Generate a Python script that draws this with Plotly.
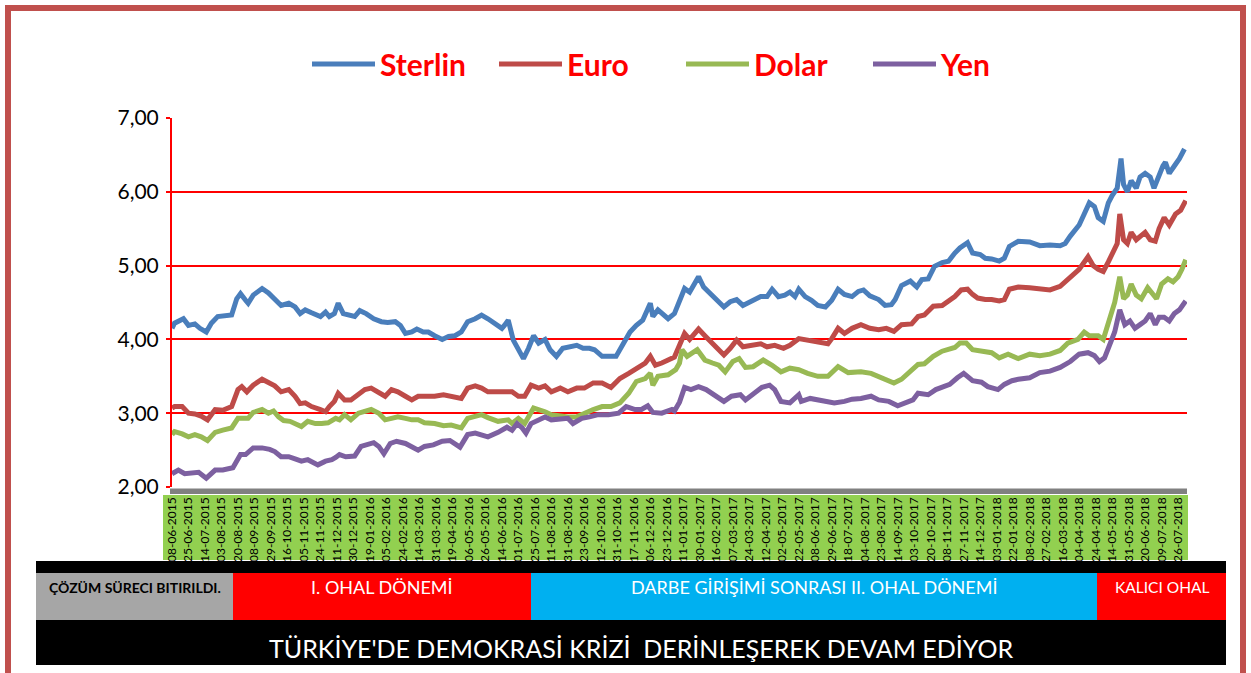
import plotly.graph_objects as go

# ---------------- data (trading-day index, value) ----------------
tick_labels = [
    "08-06-2015", "25-06-2015", "14-07-2015", "03-08-2015", "20-08-2015", "08-09-2015",
    "29-09-2015", "16-10-2015", "05-11-2015", "24-11-2015", "11-12-2015", "30-12-2015",
    "19-01-2016", "05-02-2016", "24-02-2016", "14-03-2016", "31-03-2016", "19-04-2016",
    "06-05-2016", "26-05-2016", "14-06-2016", "01-07-2016", "25-07-2016", "11-08-2016",
    "31-08-2016", "23-09-2016", "12-10-2016", "31-10-2016", "17-11-2016", "06-12-2016",
    "23-12-2016", "11-01-2017", "30-01-2017", "16-02-2017", "07-03-2017", "24-03-2017",
    "12-04-2017", "02-05-2017", "22-05-2017", "08-06-2017", "29-06-2017", "18-07-2017",
    "04-08-2017", "23-08-2017", "14-09-2017", "03-10-2017", "20-10-2017", "08-11-2017",
    "27-11-2017", "14-12-2017", "03-01-2018", "22-01-2018", "08-02-2018", "27-02-2018",
    "16-03-2018", "04-04-2018", "24-04-2018", "14-05-2018", "31-05-2018", "20-06-2018",
    "09-07-2018", "26-07-2018",
]
label_step = 13  # trading days between labelled categories

sterlin_day = [
    0, 2, 9, 13, 18, 22, 27, 31, 36, 43,
    47, 51, 54, 58, 60, 64, 71, 76, 81, 86,
    92, 97, 101, 105, 110, 117, 121, 124, 128, 131,
    135, 140, 144, 148, 153, 159, 165, 170, 176, 180,
    184, 189, 193, 198, 202, 207, 213, 218, 223, 228,
    233, 239, 244, 249, 255, 260, 262, 265, 269, 273,
    277, 281, 285, 289, 294, 298, 303, 308, 314, 319,
    324, 329, 333, 339, 344, 350, 356, 361, 366, 371,
    377, 379, 383, 391, 396, 400, 404, 408, 415, 419,
    423, 428, 435, 440, 445, 450, 457, 464, 469, 473,
    478, 483, 487, 491, 494, 499, 504, 509, 515, 520,
    525, 530, 536, 541, 545, 550, 557, 562, 567, 570,
    575, 582, 587, 591, 596, 601, 607, 612, 617, 621,
    627, 631, 637, 641, 646, 652, 656, 660, 667, 676,
    684, 692, 700, 704, 708, 715, 719, 723, 727, 730,
    734, 738, 741, 745, 748, 750, 753, 756, 760, 763,
    767, 771, 774, 777, 781, 783, 786, 790, 794, 798,
]
sterlin = [
    4.15, 4.22, 4.28, 4.19, 4.21, 4.15, 4.10, 4.22, 4.31, 4.33,
    4.33, 4.55, 4.62, 4.53, 4.49, 4.60, 4.69, 4.63, 4.55, 4.46,
    4.49, 4.44, 4.35, 4.40, 4.36, 4.31, 4.37, 4.31, 4.35, 4.49,
    4.35, 4.33, 4.31, 4.39, 4.35, 4.28, 4.24, 4.23, 4.24, 4.19,
    4.08, 4.10, 4.14, 4.10, 4.10, 4.05, 4.00, 4.04, 4.05, 4.10,
    4.24, 4.28, 4.33, 4.28, 4.21, 4.15, 4.19, 4.26, 3.99, 3.88,
    3.74, 3.88, 4.05, 3.95, 4.00, 3.86, 3.77, 3.88, 3.90, 3.92,
    3.88, 3.88, 3.86, 3.77, 3.77, 3.77, 3.95, 4.10, 4.19, 4.26,
    4.49, 4.31, 4.40, 4.28, 4.35, 4.51, 4.69, 4.64, 4.85, 4.71,
    4.64, 4.55, 4.44, 4.51, 4.54, 4.46, 4.52, 4.58, 4.58, 4.68,
    4.58, 4.60, 4.64, 4.58, 4.68, 4.58, 4.53, 4.46, 4.44, 4.53,
    4.68, 4.61, 4.58, 4.65, 4.67, 4.59, 4.54, 4.46, 4.47, 4.54,
    4.73, 4.79, 4.71, 4.81, 4.82, 4.99, 5.04, 5.06, 5.17, 5.24,
    5.31, 5.17, 5.15, 5.10, 5.09, 5.06, 5.10, 5.26, 5.33, 5.32,
    5.27, 5.28, 5.27, 5.30, 5.40, 5.55, 5.70, 5.85, 5.80, 5.65,
    5.60, 5.85, 5.95, 6.05, 6.45, 6.10, 6.00, 6.15, 6.05, 6.20,
    6.25, 6.20, 6.05, 6.20, 6.35, 6.40, 6.25, 6.35, 6.45, 6.58,
]

euro_day = [
    0, 2, 8, 13, 18, 23, 28, 34, 40, 47,
    52, 55, 59, 64, 71, 76, 81, 86, 92, 97,
    101, 105, 110, 117, 121, 124, 128, 131, 136, 141,
    147, 152, 157, 163, 168, 173, 178, 184, 189, 194,
    199, 207, 214, 220, 228, 233, 239, 244, 249, 257,
    265, 268, 273, 278, 283, 289, 294, 299, 306, 312,
    319, 325, 332, 339, 346, 353, 360, 366, 373, 377,
    381, 386, 392, 396, 400, 404, 408, 415, 420, 426,
    431, 435, 440, 445, 450, 457, 464, 469, 475, 482,
    487, 494, 501, 509, 517, 520, 525, 530, 536, 543,
    550, 557, 563, 569, 575, 583, 588, 593, 600, 607,
    612, 617, 622, 627, 631, 635, 641, 646, 652, 656,
    660, 667, 676, 684, 692, 700, 708, 715, 722, 726,
    730, 734, 738, 741, 745, 747, 750, 753, 756, 760,
    763, 767, 771, 775, 778, 782, 786, 791, 795, 799,
]
euro = [
    3.07, 3.09, 3.09, 3.00, 2.99, 2.96, 2.91, 3.05, 3.04, 3.09,
    3.32, 3.36, 3.29, 3.38, 3.46, 3.41, 3.37, 3.29, 3.32, 3.23,
    3.13, 3.14, 3.09, 3.05, 3.02, 3.09, 3.16, 3.27, 3.18, 3.18,
    3.25, 3.32, 3.34, 3.27, 3.23, 3.32, 3.29, 3.23, 3.18, 3.23,
    3.23, 3.23, 3.25, 3.23, 3.20, 3.34, 3.37, 3.34, 3.29, 3.29,
    3.30, 3.29, 3.23, 3.23, 3.38, 3.34, 3.37, 3.29, 3.34, 3.29,
    3.34, 3.34, 3.41, 3.41, 3.35, 3.47, 3.54, 3.61, 3.68, 3.77,
    3.65, 3.68, 3.73, 3.76, 3.92, 4.08, 4.00, 4.14, 4.05, 3.95,
    3.88, 3.79, 3.88, 3.99, 3.90, 3.92, 3.94, 3.90, 3.92, 3.88,
    3.92, 4.01, 3.99, 3.97, 3.94, 4.01, 4.15, 4.08, 4.15, 4.20,
    4.15, 4.13, 4.15, 4.11, 4.20, 4.21, 4.31, 4.33, 4.45, 4.46,
    4.52, 4.58, 4.67, 4.68, 4.61, 4.56, 4.54, 4.54, 4.52, 4.54,
    4.68, 4.71, 4.70, 4.68, 4.67, 4.72, 4.85, 4.95, 5.12, 5.00,
    4.95, 4.92, 5.05, 5.15, 5.30, 5.70, 5.35, 5.30, 5.45, 5.35,
    5.40, 5.45, 5.35, 5.33, 5.50, 5.65, 5.55, 5.70, 5.75, 5.88,
]

dolar_day = [
    0, 2, 8, 13, 18, 23, 28, 34, 40, 47,
    52, 56, 60, 64, 71, 76, 80, 84, 88, 93,
    98, 102, 107, 113, 118, 123, 129, 132, 136, 141,
    147, 152, 157, 163, 168, 173, 178, 184, 189, 194,
    199, 207, 214, 220, 228, 233, 239, 244, 249, 257,
    265, 268, 273, 278, 285, 289, 294, 299, 306, 312,
    319, 325, 332, 339, 346, 353, 360, 366, 373, 377,
    379, 383, 391, 397, 400, 402, 406, 414, 420, 426,
    431, 436, 442, 447, 452, 458, 466, 473, 480, 487,
    494, 501, 509, 517, 525, 533, 543, 551, 559, 569,
    575, 583, 588, 593, 600, 607, 612, 617, 621, 626,
    631, 638, 646, 652, 659, 667, 676, 684, 692, 700,
    706, 714, 719, 723, 730, 734, 739, 743, 747, 750,
    753, 756, 760, 764, 769, 773, 776, 780, 785, 789,
    793, 796, 799,
]
dolar = [
    2.71, 2.75, 2.72, 2.68, 2.71, 2.68, 2.63, 2.74, 2.77, 2.80,
    2.93, 2.93, 2.93, 3.01, 3.05, 3.00, 3.03, 2.95, 2.90, 2.89,
    2.86, 2.82, 2.89, 2.86, 2.86, 2.87, 2.93, 2.91, 2.98, 2.91,
    3.00, 3.02, 3.05, 3.00, 2.91, 2.93, 2.95, 2.93, 2.91, 2.91,
    2.87, 2.86, 2.83, 2.84, 2.80, 2.93, 2.96, 2.98, 2.94, 2.89,
    2.91, 2.86, 2.93, 2.86, 3.07, 3.05, 3.02, 2.98, 2.96, 2.95,
    2.95, 3.00, 3.05, 3.09, 3.09, 3.14, 3.27, 3.43, 3.47, 3.54,
    3.38, 3.50, 3.52, 3.59, 3.68, 3.86, 3.77, 3.86, 3.72, 3.68,
    3.65, 3.56, 3.70, 3.74, 3.62, 3.63, 3.72, 3.65, 3.56, 3.61,
    3.59, 3.54, 3.50, 3.50, 3.63, 3.55, 3.56, 3.54, 3.48, 3.41,
    3.46, 3.57, 3.66, 3.67, 3.77, 3.84, 3.86, 3.89, 3.95, 3.95,
    3.86, 3.84, 3.82, 3.75, 3.80, 3.74, 3.80, 3.78, 3.80, 3.85,
    3.95, 4.00, 4.10, 4.05, 4.05, 4.00, 4.30, 4.50, 4.85, 4.55,
    4.60, 4.75, 4.60, 4.55, 4.70, 4.60, 4.55, 4.75, 4.82, 4.78,
    4.85, 4.95, 5.08,
]

yen_day = [
    0, 5, 10, 16, 21, 27, 34, 40, 48, 54,
    58, 64, 71, 77, 81, 86, 92, 97, 102, 107,
    115, 121, 126, 129, 132, 137, 144, 149, 155, 159,
    163, 167, 172, 177, 184, 189, 194, 199, 206, 213,
    219, 227, 233, 239, 244, 249, 257, 264, 268, 272,
    276, 279, 283, 289, 294, 299, 306, 312, 316, 323,
    329, 336, 344, 352, 358, 365, 370, 375, 379, 386,
    394, 396, 400, 404, 409, 415, 421, 428, 435, 441,
    448, 452, 458, 465, 471, 475, 480, 487, 494, 496,
    503, 509, 516, 522, 530, 536, 543, 551, 557, 565,
    572, 577, 584, 588, 596, 602, 608, 613, 619, 624,
    631, 638, 643, 651, 656, 662, 667, 676, 684, 692,
    700, 708, 715, 722, 727, 731, 735, 739, 743, 747,
    751, 755, 759, 763, 767, 771, 775, 778, 782, 786,
    790, 794, 799,
]
yen = [
    2.18, 2.23, 2.18, 2.20, 2.20, 2.12, 2.23, 2.23, 2.26, 2.44,
    2.44, 2.53, 2.53, 2.51, 2.48, 2.41, 2.41, 2.38, 2.35, 2.37,
    2.30, 2.35, 2.37, 2.40, 2.44, 2.41, 2.42, 2.55, 2.57, 2.60,
    2.55, 2.45, 2.59, 2.62, 2.59, 2.55, 2.50, 2.55, 2.57, 2.62,
    2.63, 2.54, 2.71, 2.73, 2.71, 2.68, 2.74, 2.81, 2.77, 2.86,
    2.80, 2.73, 2.86, 2.91, 2.95, 2.91, 2.93, 2.93, 2.86, 2.93,
    2.95, 2.98, 2.98, 3.00, 3.09, 3.05, 3.05, 3.10, 3.01, 3.00,
    3.05, 3.03, 3.15, 3.35, 3.32, 3.36, 3.32, 3.23, 3.16, 3.23,
    3.25, 3.18, 3.25, 3.35, 3.38, 3.32, 3.16, 3.14, 3.25, 3.16,
    3.20, 3.18, 3.16, 3.14, 3.16, 3.19, 3.20, 3.23, 3.18, 3.16,
    3.10, 3.14, 3.18, 3.27, 3.25, 3.32, 3.36, 3.39, 3.48, 3.54,
    3.44, 3.42, 3.36, 3.32, 3.39, 3.44, 3.46, 3.48, 3.55, 3.57,
    3.62, 3.70, 3.80, 3.82, 3.78, 3.70, 3.75, 3.95, 4.10, 4.40,
    4.20, 4.25, 4.15, 4.20, 4.25, 4.35, 4.20, 4.30, 4.30, 4.25,
    4.35, 4.40, 4.52,
]

series = [
    ("Sterlin", sterlin_day, sterlin, "#4A7EBB"),
    ("Euro", euro_day, euro, "#BE4B48"),
    ("Dolar", dolar_day, dolar, "#98B954"),
    ("Yen", yen_day, yen, "#7D60A0"),
]
for name, d, v, _ in series:
    if len(d) != len(v):
        raise ValueError(f"{name}: {len(d)} days vs {len(v)} values")

band_labels = [
    ("ÇÖZÜM SÜRECI BITIRILDI.", 36, 233, "#A6A6A6", "black", 14, "bold"),
    ("I. OHAL DÖNEMİ", 233, 531, "#FF0000", "white", 18, "normal"),
    ("DARBE GİRİŞİMİ SONRASI II. OHAL DÖNEMİ", 531, 1097, "#00B0F0", "white", 18, "normal"),
    ("KALICI OHAL", 1097, 1226, "#FF0000", "white", 15.5, "normal"),
]
footer_text = "TÜRKİYE'DE DEMOKRASİ KRİZİ  DERİNLEŞEREK DEVAM EDİYOR"

# ---------------- layout geometry (pixels) ----------------
W, H = 1251, 673
L, R, T, B = 172, 1187, 118, 487


def fx(x):
    return (x - L) / (R - L)


def fy(y):
    return (B - y) / (B - T)


fig = go.Figure()
for name, d, v, color in series:
    fig.add_trace(go.Scatter(
        x=d, y=v, name=name, mode="lines",
        line=dict(color=color, width=5),
    ))

shapes = []
# outer frame
shapes.append(dict(type="rect", xref="paper", yref="paper",
                   x0=fx(8), x1=fx(1243), y0=fy(720), y1=fy(8),
                   line=dict(color="#C0504D", width=6), fillcolor="rgba(0,0,0,0)"))
# green tick-label band and grey strip under plot area
shapes.append(dict(type="rect", xref="paper", yref="paper", layer="below",
                   x0=fx(163), x1=fx(1188), y0=fy(560), y1=fy(495),
                   line=dict(width=0), fillcolor="#92D050"))
shapes.append(dict(type="rect", xref="paper", yref="paper",
                   x0=fx(170), x1=fx(1187), y0=fy(494), y1=fy(488.5),
                   line=dict(width=0), fillcolor="#808080"))
# black footer block
shapes.append(dict(type="rect", xref="paper", yref="paper",
                   x0=fx(36), x1=fx(1226), y0=fy(665), y1=fy(561),
                   line=dict(width=0), fillcolor="black"))

annotations = []
for text, x0, x1, fill, tcolor, size, weight in band_labels:
    shapes.append(dict(type="rect", xref="paper", yref="paper",
                       x0=fx(x0), x1=fx(x1), y0=fy(620), y1=fy(573),
                       line=dict(width=0), fillcolor=fill))
    annotations.append(dict(
        text=text, xref="paper", yref="paper",
        x=fx((x0 + x1) / 2), y=fy(587), xanchor="center", yanchor="middle",
        showarrow=False,
        font=dict(family="Lato", size=size, color=tcolor, weight=weight),
    ))
annotations.append(dict(
    text=footer_text, xref="paper", yref="paper",
    x=fx(641), y=fy(648), xanchor="center", yanchor="middle", showarrow=False,
    font=dict(family="Lato", size=25, color="white"),
))

fig.update_layout(
    width=W, height=H,
    margin=dict(l=L, r=W - R, t=T, b=H - B, pad=0),
    paper_bgcolor="white", plot_bgcolor="white",
    separators=",.",
    font=dict(family="Lato", color="black"),
    shapes=shapes, annotations=annotations,
    legend=dict(
        orientation="h", x=fx(307), y=fy(38), xanchor="left", yanchor="top",
        font=dict(family="Lato", size=30, color="#FF0000", weight="bold"),
        itemwidth=63, entrywidth=109, entrywidthmode="pixels",
        bgcolor="rgba(0,0,0,0)",
    ),
    xaxis=dict(
        range=[0, 800], tickvals=[i * label_step for i in range(len(tick_labels))],
        ticktext=tick_labels, tickangle=-90, ticks="", showgrid=False,
        showline=False, zeroline=False, ticklabelstandoff=7,
        tickfont=dict(family="Lato", size=12, color="black"),
    ),
    yaxis=dict(
        range=[2, 7], dtick=1, tick0=2, tickformat=".2f",
        showgrid=True, gridcolor="#FF0000", gridwidth=2,
        showline=True, linecolor="#FF0000", linewidth=2,
        ticks="outside", ticklen=4, tickcolor="#FF0000", tickwidth=2,
        zeroline=False, ticklabelstandoff=3,
        tickfont=dict(family="Lato", size=21, color="black"),
    ),
)

fig.write_html(
    "out.html",
    config={"displayModeBar": False},
    post_script="document.body.style.margin='0';document.body.style.overflow='hidden';",
)
